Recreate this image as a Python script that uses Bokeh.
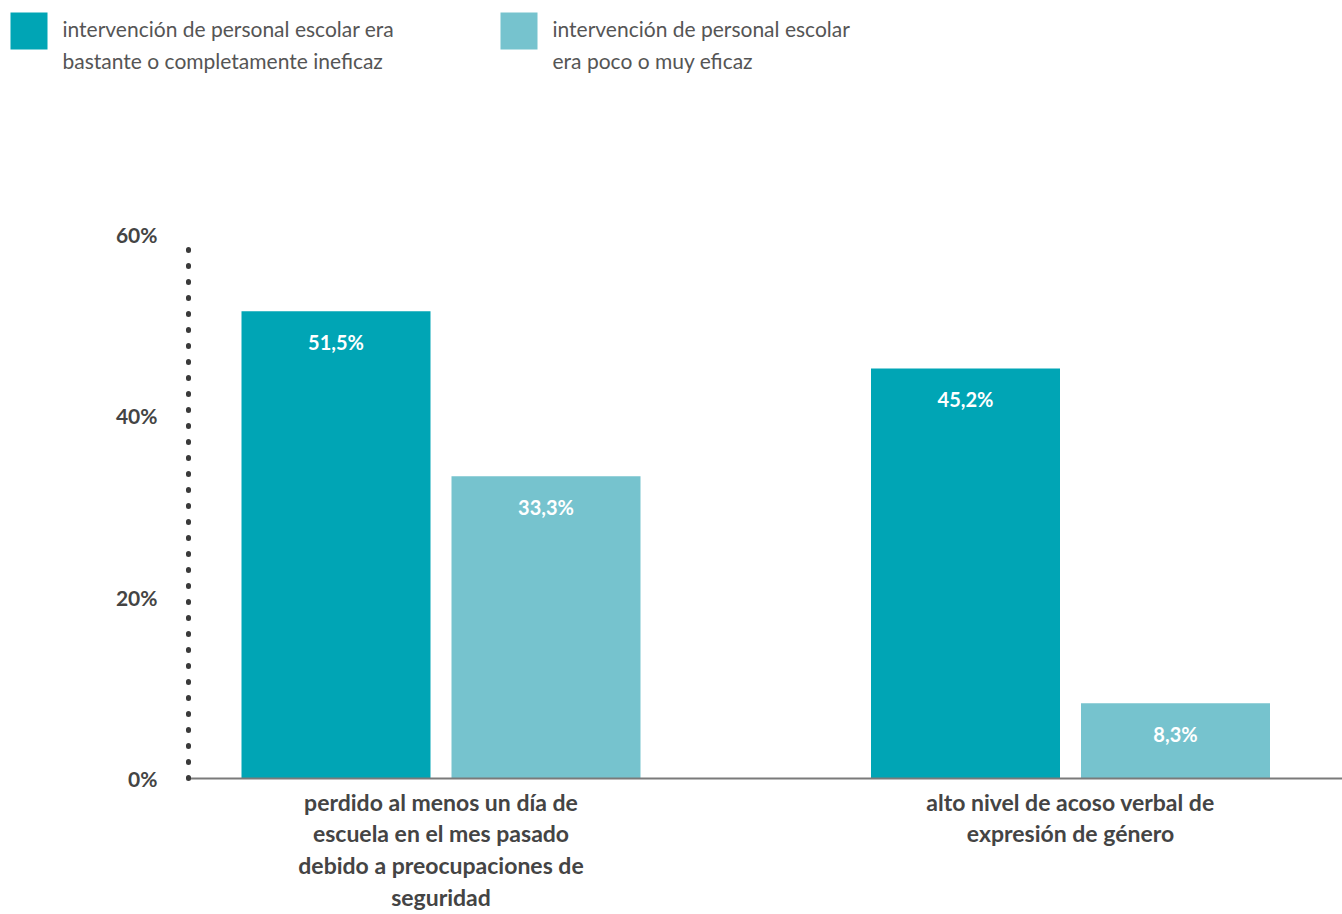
from bokeh.plotting import figure
from bokeh.models import ColumnDataSource, FixedTicker, Label, BoxAnnotation
from bokeh.core.properties import value
from bokeh.embed import file_html
from bokeh.resources import INLINE

categories = ["perdido al menos un día de\nescuela en el mes pasado\ndebido a preocupaciones de\nseguridad",
              "alto nivel de acoso verbal de\nexpresión de género"]
series_names = ["intervención de personal escolar era\nbastante o completamente ineficaz",
                "intervención de personal escolar\nera poco o muy eficaz"]
ineficaz = [51.5, 45.2]
eficaz = [33.3, 8.3]
y_ticks = [0, 20, 40, 60]
y_tick_labels = ["0%", "20%", "40%", "60%"]

DARK = "#00A5B5"
LIGHT = "#76C3CE"
FONT = "Lato"

def fmt(v):
    return f"{v:.1f}".replace(".", ",") + "%"

# ---- layout constants (pixels) ----
W, H = 1342, 914
FRAME_BOTTOM = 778          # pixel row of the 0 % baseline
AXIS_PX = 188               # pixel column of the y axis
G0_PX = 440.5               # pixel column of first group centre
PX_PER_X = 629.5            # pixels between group centres
PX_PER_Y = 544.4 / 60       # pixels per percentage point
X_START = -G0_PX / PX_PER_X
X_END = (W - G0_PX) / PX_PER_X
AXIS_X = (AXIS_PX - G0_PX) / PX_PER_X
Y_END = FRAME_BOTTOM / PX_PER_Y
Y_START = -(H - FRAME_BOTTOM) / PX_PER_Y

centers = list(range(len(categories)))
off = 105 / PX_PER_X
bw = 189 / PX_PER_X

p = figure(width=W, height=H, output_backend="svg", toolbar_location=None,
           x_range=(X_START, X_END), y_range=(Y_START, Y_END), min_border=0)
p.outline_line_color = None
p.grid.grid_line_color = None
p.background_fill_color = "white"

src1 = ColumnDataSource(dict(x=[c - off for c in centers], top=ineficaz, lbl=[fmt(v) for v in ineficaz]))
src2 = ColumnDataSource(dict(x=[c + off for c in centers], top=eficaz, lbl=[fmt(v) for v in eficaz]))

p.vbar(x="x", top="top", bottom=0, width=bw, source=src1, fill_color=DARK, line_color=None)
p.vbar(x="x", top="top", bottom=0, width=bw, source=src2, fill_color=LIGHT, line_color=None)

for s in (src1, src2):
    p.text(x="x", y="top", text="lbl", source=s, text_align="center", text_baseline="top",
           y_offset=19, text_color="white", text_font=value(FONT), text_font_style="bold",
           text_font_size="20px")

# ---- legend (screen units, measured upward from the bottom of the plot area) ----
LEG_X = [10, 500]
SW = 37
for lx, col, name in zip(LEG_X, [DARK, LIGHT], series_names):
    p.add_layout(BoxAnnotation(left=lx, right=lx + SW, top=H - 12, bottom=H - 12 - SW,
                               left_units="screen", right_units="screen",
                               top_units="screen", bottom_units="screen",
                               fill_color=col, fill_alpha=1.0, line_color=None))
    p.add_layout(Label(x=lx + 52, y=H - 15, x_units="screen", y_units="screen",
                       text=name, text_align="left", text_baseline="top",
                       text_font=FONT, text_font_size="21px", text_color="#555555",
                       text_line_height=1.3))

# y axis (fixed at the axis column)
ya = p.yaxis[0]
ya.fixed_location = AXIS_X
ya.bounds = (0, 60)
ya.ticker = FixedTicker(ticks=y_ticks)
ya.major_label_overrides = {t: l for t, l in zip(y_ticks, y_tick_labels)}
ya.axis_line_color = "#3a3a3a"
ya.axis_line_width = 5
ya.axis_line_cap = "round"
ya.axis_line_dash = "1 15"
ya.major_tick_line_color = None
ya.minor_tick_line_color = None
ya.major_label_standoff = 25
ya.major_label_text_font = FONT
ya.major_label_text_font_style = "bold"
ya.major_label_text_font_size = "21px"
ya.major_label_text_color = "#444444"

# x axis (fixed at the 0 % baseline)
xa = p.xaxis[0]
xa.fixed_location = 0
xa.bounds = (AXIS_X, X_END)
xa.ticker = FixedTicker(ticks=centers)
xa.major_label_overrides = {c: l for c, l in zip(centers, categories)}
xa.axis_line_color = "#7a7a7a"
xa.axis_line_width = 2
xa.major_tick_line_color = None
xa.minor_tick_line_color = None
xa.major_label_standoff = 3
xa.major_label_text_font = FONT
xa.major_label_text_font_style = "bold"
xa.major_label_text_font_size = "23px"
xa.major_label_text_color = "#444444"
xa.major_label_text_line_height = 1.14

open("out.html", "w").write(file_html(p, INLINE))
